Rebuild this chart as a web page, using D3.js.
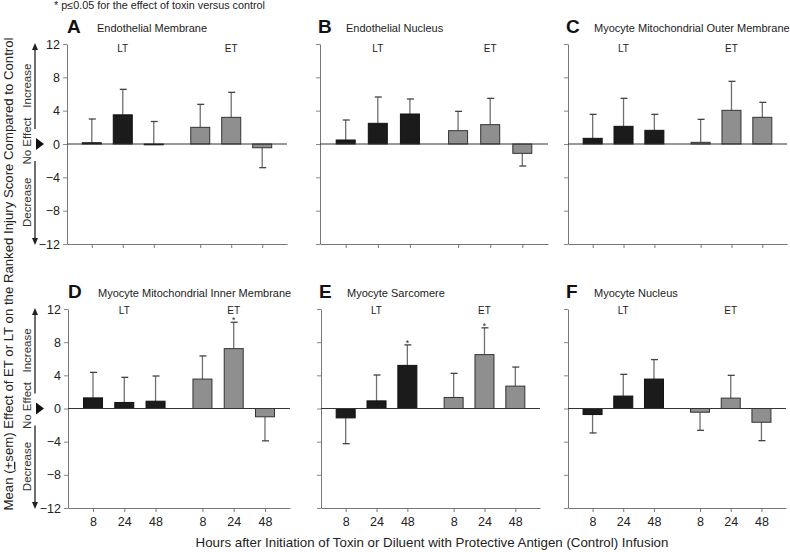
<!DOCTYPE html>
<html><head><meta charset="utf-8">
<script src="https://cdn.jsdelivr.net/npm/d3@7"></script>
<style>body{margin:0;background:#fff}svg{display:block}text{font-family:"Liberation Sans",Arial,sans-serif}</style>
</head><body>
<svg id="c" width="790" height="552"></svg>
<script>
// ---- data ----
const panelLetters = ["A","B","C","D","E","F"];
const panelTitles = ["Endothelial Membrane","Endothelial Nucleus","Myocyte Mitochondrial Outer Membrane",
  "Myocyte Mitochondrial Inner Membrane","Myocyte Sarcomere","Myocyte Nucleus"];
const hours = ["8","24","48"];
const groups = ["LT","ET"];
const yTicks = [-12,-8,-4,0,4,8,12];
// mean effect, per panel, hours 8/24/48
const ltMean = [[0.15,3.5,0],[0.48,2.48,3.6],[0.68,2.12,1.64],[1.28,0.73,0.88],[-1.13,0.92,5.2],[-0.73,1.5,3.55]];
const etMean = [[2.0,3.2,-0.45],[1.6,2.32,-1.12],[0.2,4.04,3.2],[3.55,7.22,-1.0],[1.33,6.5,2.7],[-0.45,1.25,-1.66]];
// sem
const ltSem = [[2.85,3.06,2.7],[2.4,3.16,1.8],[2.88,3.36,1.92],[3.08,3.03,3.04],[3.11,3.12,2.47],[2.22,2.62,2.35]];
const etSem = [[2.76,3.0,2.39],[2.32,3.16,1.52],[2.76,3.48,1.8],[2.79,3.18,2.9],[2.91,3.23,2.3],[2.18,2.75,2.22]];
// significance (p<=0.05)
const ltSig = [[0,0,0],[0,0,0],[0,0,0],[0,0,0],[0,0,1],[0,0,0]];
const etSig = [[0,0,0],[0,0,0],[0,0,0],[0,1,0],[0,1,0],[0,0,0]];

// ---- layout ----
const cols = [[[67,287],[320,548],[568,787]],[[68,290],[321,540],[568,786]]];
const rows = [[44,244],[309,508]];
const slots = [0.8,1.8,2.8,4.3,5.3,6.3];
const ltColor = "#1b1b1b", etColor = "#8f8f8f";
const svg = d3.select("#c");
const F = "Liberation Sans, Arial, sans-serif";

svg.append("text").attr("x",54).attr("y",9).attr("font-size",10.8).attr("fill","#222")
  .text("* p≤0.05 for the effect of toxin versus control");

panelLetters.forEach((L,i)=>{
  const r = Math.floor(i/3), c = i%3;
  const [x0,x1] = cols[r][c];
  const [yt,yb] = rows[r];
  const x = d3.scaleLinear().domain([0,7.1]).range([x0,x1]);
  const y = d3.scaleLinear().domain([-12,12]).range([yb,yt]);
  const g = svg.append("g");

  // y axis
  const ya = g.append("g").attr("transform",`translate(${x0},0)`)
    .call(d3.axisLeft(y).tickValues(yTicks).tickSize(4).tickSizeOuter(0).tickFormat(c===0?d3.format("d"):""));
  ya.select(".domain").attr("stroke","#777");
  ya.selectAll(".tick line").attr("stroke","#888");
  ya.selectAll("text").attr("font-size",12.5).attr("font-family",F).attr("fill","#222").attr("dx",0);

  // x axis
  const xa = g.append("g").attr("transform",`translate(0,${yb})`)
    .call(d3.axisBottom(x).tickValues(slots).tickSize(4).tickSizeOuter(0)
      .tickFormat(r===1?((d,k)=>hours[k%3]):""));
  xa.select(".domain").attr("stroke","#777");
  xa.selectAll(".tick line").attr("stroke","#777");
  xa.selectAll("text").attr("font-size",12.5).attr("font-family",F).attr("fill","#222").attr("dy","0.9em");

  // bars
  const rowsData = [];
  [0,1].forEach(gi=>{
    const m = gi===0?ltMean[i]:etMean[i];
    const s = gi===0?ltSem[i]:etSem[i];
    const sg = gi===0?ltSig[i]:etSig[i];
    m.forEach((v,k)=>rowsData.push({gi,k,v,s:s[k],sig:sg[k],pos:slots[gi*3+k]}));
  });
  const bw = 19;
  // error bars
  rowsData.forEach(d=>{
    const end = d.v>=0 ? d.v+d.s : d.v-d.s;
    const cx = x(d.pos);
    g.append("line").attr("x1",cx).attr("x2",cx).attr("y1",y(d.v)).attr("y2",y(end))
      .attr("stroke","#707070").attr("stroke-width",1.3);
    g.append("line").attr("x1",cx-3).attr("x2",cx+4).attr("y1",y(end)).attr("y2",y(end))
      .attr("stroke","#444").attr("stroke-width",1.3);
    if(d.sig){
      g.append("text").attr("x",cx).attr("y",y(end)+1).attr("text-anchor","middle")
        .attr("font-size",8.5).attr("fill","#222").text("*");
    }
  });
  g.selectAll("rect.bar").data(rowsData).join("rect")
    .attr("x",d=>x(d.pos)-bw/2).attr("width",bw)
    .attr("y",d=>y(Math.max(0,d.v))).attr("height",d=>Math.max(0.8,Math.abs(y(d.v)-y(0))))
    .attr("fill",d=>d.gi===0?ltColor:etColor)
    .attr("stroke",d=>d.gi===0?"#111":"#333").attr("stroke-width",1);

  // zero line
  g.append("line").attr("x1",x0).attr("x2",x1).attr("y1",y(0)).attr("y2",y(0))
    .attr("stroke","#333").attr("stroke-width",1);

  // group labels
  groups.forEach((gr,gi)=>{
    g.append("text").attr("x",x(slots[gi*3+1])).attr("y",yt+(r===0?8:5)).attr("text-anchor","middle")
      .attr("font-size",10).attr("fill","#222").text(gr);
  });

  // panel letter & title
  g.append("text").attr("x",x0+(c===0?0:-2)).attr("y",yt-11).attr("font-size",19).attr("font-weight","bold")
    .attr("fill","#111").text(L);
  g.append("text").attr("x",x0+(c===0?30:26)).attr("y",yt-12).attr("font-size",11).attr("fill","#222")
    .text(panelTitles[i]);

  // side arrows (first column)
  if(c===0){
    const ax = 35;
    g.append("line").attr("x1",ax).attr("x2",ax).attr("y1",y(12)+4).attr("y2",y(0)-15)
      .attr("stroke","#222").attr("stroke-width",1.3);
    g.append("path").attr("d",`M${ax-3},${y(12)+6}L${ax},${y(12)-1}L${ax+3},${y(12)+6}Z`).attr("fill","#222");
    g.append("line").attr("x1",ax).attr("x2",ax).attr("y1",y(0)+17).attr("y2",y(-12)-4)
      .attr("stroke","#222").attr("stroke-width",1.3);
    g.append("path").attr("d",`M${ax-3},${y(-12)-6}L${ax},${y(-12)+1}L${ax+3},${y(-12)-6}Z`).attr("fill","#222");
    g.append("path").attr("d",`M${ax+1},${y(0)-6}L${ax+9},${y(0)}L${ax+1},${y(0)+6}Z`).attr("fill","#111");
    const lab = (t,yy)=>g.append("text").attr("transform",`translate(31,${yy}) rotate(-90)`)
      .attr("text-anchor","middle").attr("font-size",11.5).attr("fill","#333").text(t);
    lab("Increase",y(7));
    lab("No Effect",y(0)-3);
    lab("Decrease",y(-7));
  }
});

// axis titles
const yt = svg.append("text").attr("transform","translate(13,274) rotate(-90)")
  .attr("text-anchor","middle").attr("font-size",13.2).attr("fill","#222");
yt.append("tspan").text("Mean (");
yt.append("tspan").attr("text-decoration","underline").text("+");
yt.append("tspan").text("sem) Effect of ET or LT on the Ranked Injury Score Compared to Control");

svg.append("text").attr("x",432).attr("y",547).attr("text-anchor","middle").attr("font-size",13.3)
  .attr("fill","#222").text("Hours after Initiation of Toxin or Diluent with Protective Antigen (Control) Infusion");
</script>
</body></html>
